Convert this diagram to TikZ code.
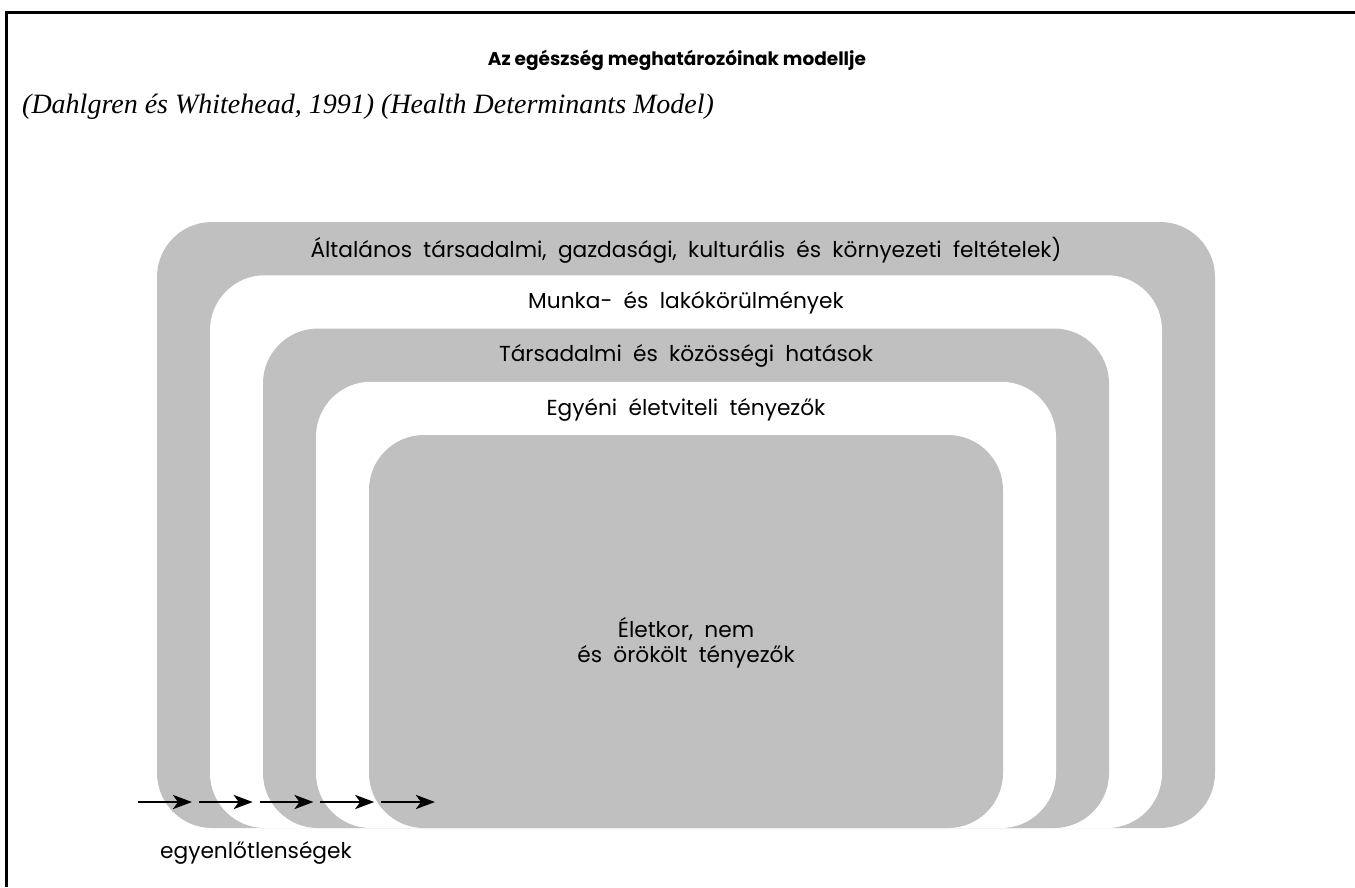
\documentclass[tikz,border=0pt]{standalone}
\usepackage{fontspec}
\setmainfont{Poppins}
\newfontfamily\citefont{Liberation Serif}
\usetikzlibrary{arrows.meta}
\definecolor{shellgray}{RGB}{192,192,192}
\newcommand\widespace{\spaceskip=0.52em\relax}

\begin{document}
\begin{tikzpicture}[x=1pt,y=-1pt,
  lbl/.style={font=\fontsize{21.7}{25}\selectfont,inner sep=0pt,align=center,
    execute at begin node=\widespace},
  push/.style={line width=2.8pt,-{Stealth[length=19pt,width=14pt,inset=5pt]}}]
  \useasboundingbox (0,0) rectangle (1355,887);
  % frame, top and left only
  \draw[line width=3pt] (1355,12) -- (6,12) -- (6,887);
  \node[font=\bfseries\fontsize{18.5}{22}\selectfont] (title) at (677,60) {Az egészség meghatározóinak modellje};
  \node[font=\citefont\itshape\fontsize{28}{32}\selectfont,anchor=west,inner sep=0pt] (src) at (22,107)
    {(Dahlgren és Whitehead, 1991) (Health Determinants Model)};
  % nested layers, outer to inner
  \foreach \k/\col in {0/shellgray,1/white,2/shellgray,3/white,4/shellgray}{
    \fill[\col,rounded corners=55pt] (157+53*\k,222+53.25*\k) rectangle (1215-53*\k,828);
  }
  \node[lbl] (general) at (686,250) {Általános társadalmi, gazdasági, kulturális és környezeti feltételek)};
  \node[lbl] (work)    at (686,303) {Munka- és lakókörülmények};
  \node[lbl] (social)  at (686,356) {Társadalmi és közösségi hatások};
  \node[lbl] (life)    at (686,410) {Egyéni életviteli tényezők};
  \node[lbl] (core)    at (686,643) {Életkor, nem\\és örökölt tényezők};
  % inequality arrows
  \foreach \i in {0,...,4}{
    \coordinate (s\i) at (138+60.75*\i,802);
    \coordinate (e\i) at (192+60.75*\i,802);
    \draw[push] (s\i) -- (e\i);
  }
  \node[lbl,anchor=west] (ineq) at (160,853) {egyenlőtlenségek};
\end{tikzpicture}
\end{document}
